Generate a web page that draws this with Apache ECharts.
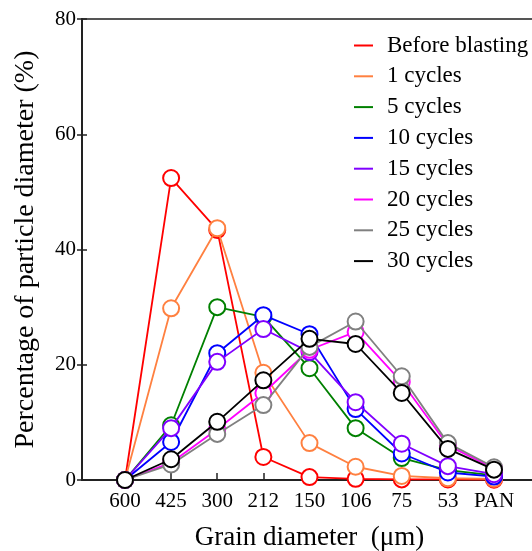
<!DOCTYPE html>
<html>
<head>
<meta charset="utf-8">
<script src="https://cdn.jsdelivr.net/npm/echarts@6/dist/echarts.min.js"></script>
<style>html,body{margin:0;padding:0;background:#fff}#c{width:532px;height:551px}</style>
</head>
<body>
<div id="c"></div>
<script>
var categories = ['600','425','300','212','150','106','75','53','PAN'];
var seriesNames = ['Before blasting','1 cycles','5 cycles','10 cycles','15 cycles','20 cycles','25 cycles','30 cycles'];
var colors = ['#ff0000','#ff8040','#008000','#0000ff','#8000ff','#ff00ff','#808080','#000000'];
var beforeBlasting = [0, 52.4, 43.4, 4.0, 0.5, 0.2, 0.1, 0.1, 0.05];
var cycles1  = [0, 29.8, 43.7, 18.6, 6.4, 2.3, 0.7, 0.3, 0.2];
var cycles5  = [0, 9.5, 30.0, 28.3, 19.4, 9.0, 3.8, 1.7, 0.8];
var cycles10 = [0, 6.6, 22.0, 28.6, 25.3, 12.3, 4.6, 1.3, 0.6];
var cycles15 = [0, 9.0, 20.5, 26.2, 22.2, 13.5, 6.3, 2.4, 1.0];
var cycles20 = [0, 3.0, 8.8, 15.1, 22.6, 25.7, 17.0, 6.0, 2.0];
var cycles25 = [0, 2.7, 8.0, 13.0, 23.1, 27.5, 18.0, 6.4, 2.2];
var cycles30 = [0, 3.6, 10.1, 17.3, 24.5, 23.6, 15.1, 5.4, 1.8];
var allValues = [beforeBlasting, cycles1, cycles5, cycles10, cycles15, cycles20, cycles25, cycles30];
var yTicks = [0, 20, 40, 60, 80];

var font = 'Liberation Serif, Times New Roman, serif';
var idx = categories.map(function(c,i){return i;});

var series = allValues.map(function(vals, s){
  return {
    name: seriesNames[s],
    type: 'line',
    data: vals.map(function(v,i){return [idx[i], v];}),
    symbol: 'circle',
    symbolSize: 16,
    showAllSymbol: true,
    lineStyle: {color: colors[s], width: 1.8},
    itemStyle: {color: '#fff', borderColor: colors[s], borderWidth: 2},
    emphasis: {disabled: true},
    z: 2 + s
  };
});

var chart = echarts.init(document.getElementById('c'));
chart.setOption({
  animation: false,
  backgroundColor: '#fff',
  grid: {left: 82, top: 19, right: -5, bottom: 71, show: true, borderColor: '#555', borderWidth: 2, containLabel: false, outerBoundsMode: 'none'},
  legend: {
    data: seriesNames.map(function(n,i){return {name:n, itemStyle:{color: colors[i], borderWidth: 0}};}),
    orient: 'vertical',
    left: 349,
    top: 29,
    icon: 'rect',
    itemWidth: 19,
    itemHeight: 2,
    itemGap: 7.8,
    itemStyle: {borderWidth: 0},
    textStyle: {fontFamily: font, fontSize: 23, color: '#000', lineHeight: 22, padding: [0,0,0,9]}
  },
  xAxis: {
    type: 'value',
    min: -0.932,
    max: 8.932,
    name: 'Grain diameter  (\u03bcm)',
    nameLocation: 'middle',
    nameGap: 44,
    nameTextStyle: {fontFamily: font, fontSize: 27, color: '#000'},
    axisLine: {show: true, onZero: false, lineStyle: {color: '#222', width: 2}},
    axisTick: {show: true, inside: true, length: 7, customValues: idx, lineStyle: {color: '#222', width: 1.5}},
    axisLabel: {customValues: idx, margin: 11, fontFamily: font, fontSize: 21, color: '#000',
      formatter: function(v){ return categories[Math.round(v)]; }},
    splitLine: {show: false}
  },
  yAxis: [{
    type: 'value',
    min: 0, max: 80, interval: 20,
    name: 'Percentage of particle diameter (%)',
    nameLocation: 'middle',
    nameGap: 42,
    nameTextStyle: {fontFamily: font, fontSize: 28, color: '#000'},
    axisLine: {show: true, onZero: false, lineStyle: {color: '#222', width: 2}},
    axisTick: {show: true, inside: false, length: 5, lineStyle: {color: '#222', width: 1.5}},
    axisLabel: {margin: 6, fontFamily: font, fontSize: 21, color: '#000',
      formatter: function(v){ return yTicks.indexOf(v) >= 0 ? String(v) : ''; }},
    splitLine: {show: false}
  },{
    type: 'value',
    min: 0, max: 80, interval: 20,
    position: 'left',
    axisLine: {show: false, onZero: false},
    axisTick: {show: true, inside: true, length: 5, lineStyle: {color: '#222', width: 1.5}},
    axisLabel: {show: false},
    splitLine: {show: false}
  }],
  series: series
});
</script>
</body>
</html>
